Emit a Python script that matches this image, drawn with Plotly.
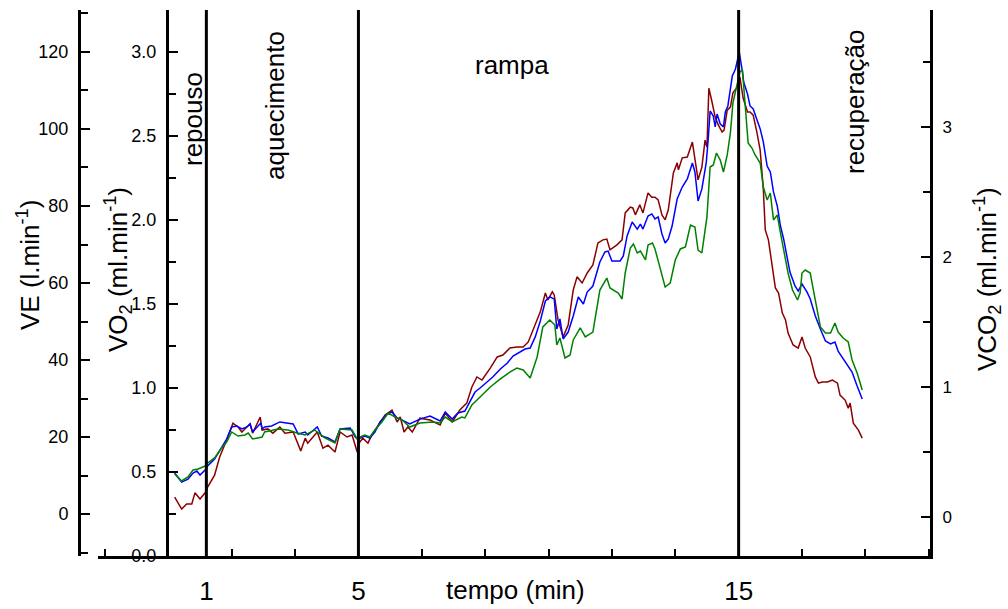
import plotly.graph_objects as go

# ---------------- data (time in seconds) ----------------
t_ve = [10,21,29,37,42,50,59,62,73,81,92,102,110,116,124,129,133,145,148,157,165,176,184,197,209,216,220,235,244,252,263,271,282,290,298,302,307,315,321,331,342,353,361,366,372,378,385,397,413,429,437,448,460,471,479,487,495,508,519,528,539,550,560,568,576,587,595,599,606,609,615,623,631,639,645,653,661,670,678,686,692,697,708,716,721,729,733,737,744,749,757,763,768,773,779,784,789,797,803,805,811,819,827,831,836,842,847,850,853,858,863,868,874,877,882,887,891,898,902,907,914,918,923,929,934,939,942,947,953,958,963,969,974,978,986,994,1000,1005,1013,1021,1026,1032,1040,1048,1056,1060,1068,1073,1076,1081,1089,1095]
ve = [4.4,1.3,2.6,2.6,5.5,3.9,5.7,7.0,10.1,14.8,19.2,23.6,22.6,21.3,22.6,23.4,21.0,25.2,21.8,22.1,21.0,22.6,21.0,21.3,16.4,19.7,18.4,21.3,17.1,17.9,16.1,21.3,20.0,20.5,16.1,18.7,19.7,18.4,20.5,23.1,25.7,27.0,23.9,25.2,21.3,22.6,21.3,24.9,24.4,23.1,26.2,23.9,27.0,28.8,33.0,35.6,34.8,37.9,40.8,41.3,43.1,43.4,43.4,44.7,47.8,52.5,57.4,55.6,57.7,56.9,50.4,46.0,49.1,58.2,61.6,60.0,62.6,64.7,70.4,71.2,71.4,68.6,69.9,71.2,78.2,79.7,79.5,77.7,80.3,78.2,83.4,82.3,82.3,81.6,77.7,76.4,79.0,88.6,91.2,89.4,92.5,92.7,96.6,92.7,86.8,90.1,97.1,95.3,110.6,107.0,103.1,101.0,99.2,99.7,104.9,105.7,109.4,110.9,113.5,108.1,104.4,104.4,103.6,99.0,94.5,84.2,73.8,71.2,64.2,58.7,57.4,52.2,50.4,47.0,43.9,43.1,46.0,43.1,40.8,35.6,34.0,34.3,34.3,34.8,34.0,30.9,29.6,27.5,28.8,23.6,21.8,19.7]

t_vo2 = [10,21,31,39,45,50,58,62,73,84,92,100,108,116,124,129,133,146,148,152,163,176,189,197,205,216,220,235,242,252,263,271,287,295,299,310,318,326,334,345,353,361,366,381,397,413,429,437,448,457,468,476,484,492,503,512,524,535,544,555,563,571,579,587,595,602,609,613,618,623,631,639,647,655,661,670,681,689,694,700,713,718,724,732,740,745,749,757,763,768,773,779,784,789,795,803,811,819,827,831,836,842,849,852,855,860,863,866,871,876,879,883,890,895,901,906,908,914,918,923,929,934,939,945,950,955,961,966,971,977,981,989,994,1000,1008,1013,1021,1029,1037,1045,1052,1057,1065,1073,1079,1087,1095]
vo2 = [0.494,0.440,0.458,0.494,0.506,0.482,0.512,0.536,0.577,0.649,0.696,0.768,0.774,0.756,0.768,0.786,0.738,0.792,0.756,0.768,0.774,0.798,0.792,0.786,0.726,0.738,0.720,0.768,0.714,0.702,0.679,0.756,0.762,0.708,0.696,0.714,0.702,0.738,0.798,0.845,0.857,0.821,0.815,0.786,0.815,0.833,0.804,0.857,0.815,0.851,0.863,0.917,0.976,1.000,1.036,1.065,1.113,1.149,1.190,1.214,1.232,1.238,1.304,1.399,1.518,1.542,1.530,1.351,1.411,1.292,1.333,1.429,1.542,1.500,1.571,1.607,1.750,1.810,1.815,1.756,1.756,1.786,1.905,1.988,1.946,1.976,1.946,2.024,2.036,2.006,2.018,1.917,1.863,1.887,1.964,2.125,2.196,2.244,2.339,2.286,2.113,2.185,2.345,2.482,2.649,2.619,2.554,2.631,2.571,2.554,2.643,2.679,2.857,2.899,3.000,2.881,2.821,2.750,2.679,2.661,2.601,2.542,2.464,2.321,2.286,2.167,2.083,1.964,1.887,1.768,1.690,1.607,1.577,1.619,1.571,1.530,1.429,1.351,1.280,1.262,1.274,1.220,1.173,1.131,1.095,1.012,0.935]

t_vco2 = [10,21,31,39,47,58,62,73,84,92,100,110,121,126,133,148,152,173,189,203,216,231,247,263,271,290,298,302,310,318,326,337,347,358,369,381,397,418,429,437,448,463,468,479,492,508,524,539,550,560,571,582,591,602,610,613,618,626,634,639,650,658,670,681,692,697,710,716,721,729,734,740,745,753,757,764,768,776,784,792,800,808,816,824,831,836,842,850,855,860,865,871,876,882,887,891,898,902,906,910,915,921,926,934,939,945,950,955,961,966,971,978,985,993,997,1000,1005,1013,1018,1024,1029,1037,1045,1052,1057,1065,1073,1079,1087,1095]
vco2 = [0.331,0.277,0.308,0.362,0.369,0.392,0.415,0.454,0.531,0.577,0.654,0.623,0.631,0.646,0.600,0.615,0.654,0.677,0.669,0.646,0.631,0.669,0.608,0.569,0.677,0.669,0.600,0.615,0.631,0.615,0.669,0.731,0.800,0.769,0.746,0.692,0.723,0.731,0.723,0.769,0.731,0.769,0.762,0.862,0.923,1.000,1.062,1.115,1.146,1.131,1.069,1.231,1.462,1.515,1.477,1.323,1.377,1.223,1.246,1.362,1.454,1.385,1.423,1.746,1.838,1.762,1.723,1.677,1.877,2.069,2.100,2.031,2.046,1.977,2.092,2.108,2.062,1.923,1.769,1.800,1.977,2.062,2.077,2.246,2.231,2.054,2.031,2.308,2.692,2.708,2.800,2.746,2.654,2.785,2.954,3.185,3.338,3.423,3.438,3.154,2.877,2.838,2.785,2.723,2.538,2.438,2.492,2.285,2.323,2.185,2.054,1.877,1.746,1.669,1.723,1.877,1.900,1.877,1.746,1.592,1.462,1.415,1.415,1.492,1.423,1.377,1.346,1.208,1.108,0.977]

phase_times = [60, 300, 900]
x_tick_vals = [60, 300, 900]
x_tick_text = ["1", "5", "15"]
x_minor_ticks = list(range(-100, 1201, 100))

# ---------------- layout helpers ----------------
W, H = 1008, 609
L, R, T, B = 79, 78, 10, 53
PW, PH = W - L - R, H - T - B
FONT = "Liberation Sans, Arial, sans-serif"


def px(x):
    return (x - L) / PW


def py(y):
    return (H - B - y) / PH


fig = go.Figure()
fig.add_trace(go.Scatter(x=t_ve, y=ve, yaxis="y", mode="lines",
                         line=dict(color="#8b0000", width=1.5), name="VE"))
fig.add_trace(go.Scatter(x=t_vo2, y=vo2, yaxis="y2", mode="lines",
                         line=dict(color="#0000ff", width=1.5), name="VO2"))
fig.add_trace(go.Scatter(x=t_vco2, y=vco2, yaxis="y3", mode="lines",
                         line=dict(color="#008000", width=1.5), name="VCO2"))

axis_common = dict(showline=True, linecolor="black", linewidth=3, showgrid=False,
                   zeroline=False, ticks="inside", tickcolor="black", tickwidth=1.5,
                   ticklen=9, fixedrange=True, automargin=False)

shapes = [dict(type="line", xref="x", yref="paper", x0=t, x1=t, y0=0, y1=1,
               line=dict(color="black", width=3)) for t in phase_times]

ann = []


def add_text(text, x, y, size=26, angle=0):
    ann.append(dict(text=text, xref="paper", yref="paper", x=px(x), y=py(y),
                    xanchor="center", yanchor="middle", showarrow=False,
                    textangle=angle, font=dict(family=FONT, size=size, color="black")))


add_text("VE (l.min<sup>-1</sup>)", 28, 265, 26, -90)
add_text("VO<sub>2</sub> (ml.min<sup>-1</sup>)", 118, 270, 26, -90)
add_text("VCO<sub>2</sub> (ml.min<sup>-1</sup>)", 987, 279, 26, -90)
add_text("repouso", 193, 119, 26, -90)
add_text("aquecimento", 275, 106, 26, -90)
add_text("rampa", 512, 65, 26, 0)
add_text("recuperação", 855, 102, 26, -90)
add_text("tempo (min)", 515, 590, 26, 0)

fig.update_layout(
    width=W, height=H,
    margin=dict(l=L, r=R, t=T, b=B, pad=0, autoexpand=False),
    paper_bgcolor="white", plot_bgcolor="white",
    showlegend=False,
    font=dict(family=FONT, color="black"),
    xaxis=dict(domain=[px(98), 1], range=[-111, 1202], showline=True,
               linecolor="black", linewidth=3, showgrid=False, zeroline=False,
               tickmode="array", tickvals=x_tick_vals, ticktext=x_tick_text,
               ticks="", tickfont=dict(size=26, family=FONT),
               ticklabelstandoff=10, fixedrange=True, automargin=False,
               minor=dict(tickmode="array", tickvals=x_minor_ticks, ticks="inside",
                          ticklen=7, tickwidth=1.5, tickcolor="black", showgrid=False)),
    yaxis=dict(axis_common, anchor="free", position=0, side="left",
               range=[-10.9, 130.9], tick0=0, dtick=20,
               tickfont=dict(size=18, family=FONT), ticklabelstandoff=6,
               minor=dict(tick0=0, dtick=10, ticks="inside", ticklen=7,
                          tickwidth=1.5, tickcolor="black", showgrid=False)),
    yaxis2=dict(axis_common, anchor="free", position=px(167), side="left",
                overlaying="y", range=[0, 3.25], tick0=0, dtick=0.5,
                tickformat=".1f", tickfont=dict(size=18, family=FONT),
                ticklabelstandoff=6,
                minor=dict(tick0=0, dtick=0.25, ticks="inside", ticklen=7,
                           tickwidth=1.5, tickcolor="black", showgrid=False)),
    yaxis3=dict(axis_common, anchor="x", side="right", overlaying="y",
                range=[-0.3, 3.9], tick0=0, dtick=1,
                tickfont=dict(size=17, family=FONT), ticklabelstandoff=6,
                minor=dict(tick0=0, dtick=0.5, ticks="inside", ticklen=7,
                           tickwidth=1.5, tickcolor="black", showgrid=False)),
    shapes=shapes,
    annotations=ann,
)

fig.write_html("out.html")
